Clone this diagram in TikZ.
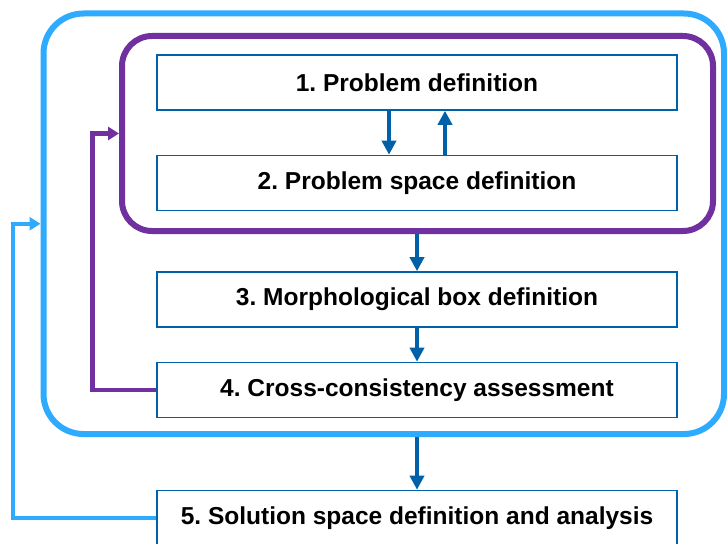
\documentclass[tikz,border=0pt]{standalone}
\usepackage{fontspec}
\setmainfont{Liberation Sans}
\usetikzlibrary{arrows.meta}

\definecolor{lightblue}{HTML}{2EAAFF}
\definecolor{violet}{HTML}{7030A0}
\definecolor{darkblue}{HTML}{0060A8}

\begin{document}
\frenchspacing
\begin{tikzpicture}[x=1pt,y=-1pt,
  stepbox/.style={shape=rectangle,draw=darkblue,line width=1.6pt,minimum width=520pt,minimum height=55pt,align=center,font=\fontsize{24.5}{28}\selectfont\bfseries},
  frame/.style={shape=rectangle,rounded corners=#1,minimum width=0pt,inner sep=0pt},
  flow/.style={draw=darkblue,line width=4.5pt,-{Triangle[length=14pt,width=14pt]}},
  loop/.style={line width=4.5pt,-{Triangle[length=11pt,width=13pt]}}]
\useasboundingbox (0,0) rectangle (727,543);
\node[frame=40pt,draw=lightblue,line width=6pt,minimum width=680.5pt,minimum height=420.5pt] (outer) at (383.75,223.75) {};
\node[frame=30pt,draw=violet,line width=6pt,minimum width=591pt,minimum height=195pt] (inner) at (417.5,133.5) {};
\node[stepbox] (1) at (417,82.5) {1. Problem definition};
\node[stepbox] (2) at (417,183) {2. Problem space definition};
\node[stepbox] (3) at (417,299.5) {3. Morphological box definition};
\node[stepbox] (4) at (417,390) {4. Cross-consistency assessment};
\node[stepbox] (5) at (417,518) {5. Solution space definition and analysis};

\draw[flow] ([xshift=-28pt]1.south) -- ([xshift=-28pt]2.north);
\draw[flow] ([xshift=28pt]2.north) -- ([xshift=28pt]1.south);
\draw[flow] (inner.south -| 3.north) -- (3.north);
\draw[flow] (3.south) -- (4.north);
\draw[flow] (outer.south -| 5.north) -- (5.north);

\draw[loop,draw=violet] (4.west) -- ++(-63.5,0) |- (inner.west);
\draw[loop,draw=lightblue] (5.west) -- ++(-143,0) |- (outer.west);
\end{tikzpicture}
\end{document}
